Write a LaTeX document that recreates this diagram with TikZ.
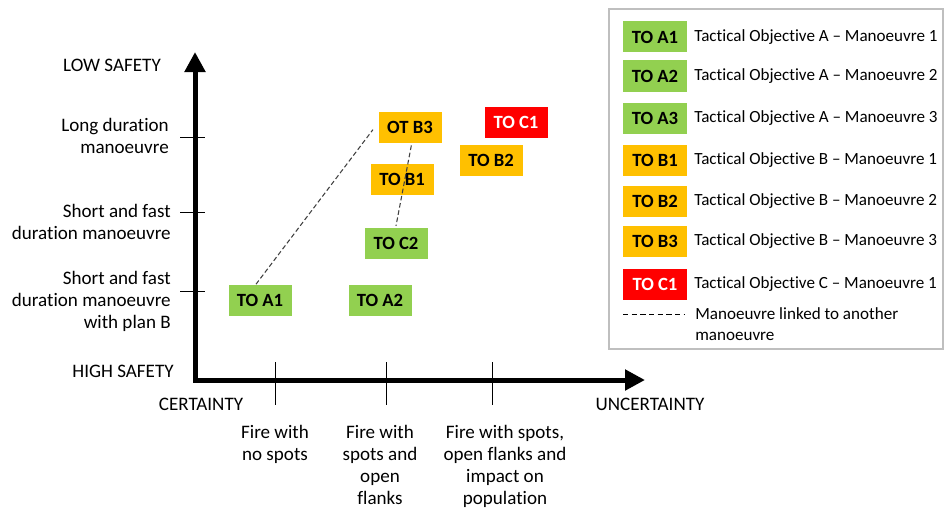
\documentclass[tikz,border=0pt]{standalone}
\usepackage{fontspec}
\setmainfont{Carlito}[Ligatures=NoCommon]
\usetikzlibrary{arrows.meta}
\definecolor{togreen}{HTML}{92D050}
\definecolor{toorange}{HTML}{FFC000}
\definecolor{tored}{HTML}{FF0000}
\definecolor{legframe}{HTML}{BFBFBF}
\definecolor{linkgray}{HTML}{404040}
\tikzset{
  tobox/.style={minimum width=47.25pt, minimum height=23.25pt, inner sep=0pt,
    font=\bfseries\fontsize{14}{16}\selectfont},
  ga/.style={tobox, fill=togreen},
  gb/.style={tobox, fill=toorange},
  gc/.style={tobox, fill=tored, text=white},
  axislbl/.style={inner sep=0pt, font=\fontsize{14.3}{16.5}\selectfont},
  leglbl/.style={inner sep=0pt, anchor=west, font=\fontsize{12.8}{15.75}\selectfont},
  tick/.style={line width=0.75pt},
  link/.style={linkgray, line width=0.8pt, dash pattern=on 3.5pt off 2pt},
}
\begin{document}
\begin{tikzpicture}[x=0.75pt,y=-0.75pt]
\useasboundingbox (0,0) rectangle (944,510);

% axes
\coordinate (ytop) at (195,52);
\coordinate (origin) at (195,380);
\coordinate (xend) at (645,380);
\draw[line width=3.75pt, miter limit=10,
  {Triangle[width=15pt,length=15pt]}-{Triangle[width=15pt,length=15pt]}]
  (ytop) -- (origin) -- (xend);

% ticks on the vertical axis
\foreach \ty in {137,212,291}
  \draw[tick] (180,\ty) -- (205,\ty);
% ticks on the horizontal axis
\foreach \tx in {275,386,492}
  \draw[tick] (\tx,362) -- (\tx,405);

% vertical axis labels
\node[axislbl] (lowsafe) at (112,65) {LOW SAFETY};
\node[axislbl, anchor=east, align=right] (longdur) at (169,136) {Long duration\\manoeuvre};
\node[axislbl, anchor=east, align=right] (shortdur) at (171,222) {Short and fast\\duration manoeuvre};
\node[axislbl, anchor=east, align=right] (planb) at (171,301) {Short and fast\\duration manoeuvre\\with plan B};
\node[axislbl] (highsafe) at (123,371) {HIGH SAFETY};

% horizontal axis labels
\node[axislbl] (cert) at (201,404) {CERTAINTY};
\node[axislbl] (uncert) at (650,404) {UNCERTAINTY};
\node[axislbl, anchor=north, align=center] (nospots) at (275,425) {Fire with\\no spots};
\node[axislbl, anchor=north, align=center] (spots) at (380,425) {Fire with\\spots and\\open\\flanks};
\node[axislbl, anchor=north, align=center] (impact) at (505,425) {Fire with spots,\\open flanks and\\impact on\\population};

% manoeuvres
\node[ga] (a1) at (260,300) {TO A1};
\node[ga] (a2) at (380,300) {TO A2};
\node[gb] (b3) at (410,127) {OT B3};
\node[gc] (c1) at (516,122) {TO C1};
\node[gb] (b2) at (491,160) {TO B2};
\node[gb] (b1) at (402,179) {TO B1};
\node[ga] (c2) at (396,243) {TO C2};

% links between manoeuvres
\draw[link] ([xshift=-3pt]a1.north) -- ([xshift=-4pt,yshift=-2pt]b3.west);
\draw[link] ([xshift=1pt,yshift=-2pt]b3.south) -- ([yshift=1pt]c2.north);

% legend
\draw[legframe, line width=0.9pt] (609,9) rectangle (943,349);
\node[ga, minimum width=48pt] (la1) at (655,37) {TO A1};
\node[ga, minimum width=48pt] (la2) at (655,76) {TO A2};
\node[ga, minimum width=48pt] (la3) at (655,118) {TO A3};
\node[gb, minimum width=48pt] (lb1) at (655,160) {TO B1};
\node[gb, minimum width=48pt] (lb2) at (655,201) {TO B2};
\node[gb, minimum width=48pt] (lb3) at (655,241) {TO B3};
\node[gc, minimum width=48pt] (lc1) at (655,284) {TO C1};
\node[leglbl] (ta1) at (694,37) {Tactical Objective A – Manoeuvre 1};
\node[leglbl] (ta2) at (694,76) {Tactical Objective A – Manoeuvre 2};
\node[leglbl] (ta3) at (694,118) {Tactical Objective A – Manoeuvre 3};
\node[leglbl] (tb1) at (694,160) {Tactical Objective B – Manoeuvre 1};
\node[leglbl] (tb2) at (694,201) {Tactical Objective B – Manoeuvre 2};
\node[leglbl] (tb3) at (694,241) {Tactical Objective B – Manoeuvre 3};
\node[leglbl] (tc1) at (694,284) {Tactical Objective C – Manoeuvre 1};
\coordinate (ldash1) at (623,314);
\coordinate (ldash2) at (685,314);
\draw[black, line width=0.75pt, dash pattern=on 4pt off 2.5pt] (ldash1) -- (ldash2);
\node[leglbl, align=left] (tlink) at (695,324.5) {Manoeuvre linked to another\\manoeuvre};
\end{tikzpicture}
\end{document}
